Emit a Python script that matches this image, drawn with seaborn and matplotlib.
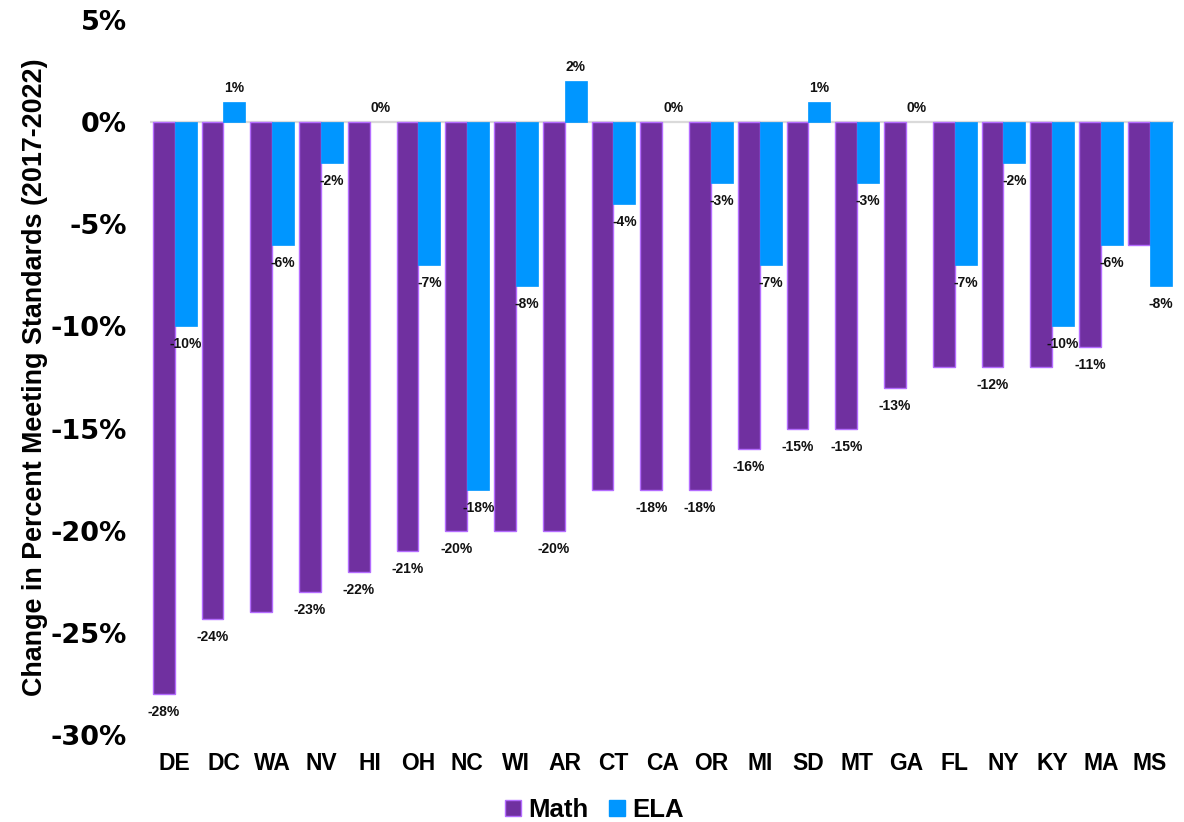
import matplotlib
matplotlib.use("Agg")
import matplotlib.pyplot as plt
from matplotlib.patches import Patch
from matplotlib.ticker import FuncFormatter
import seaborn as sns
import pandas as pd

# State codes, ordered by math decline
states = ["DE", "DC", "WA", "NV", "HI", "OH", "NC", "WI", "AR", "CT", "CA",
          "OR", "MI", "SD", "MT", "GA", "FL", "NY", "KY", "MA", "MS"]

# Change in percent meeting standards, 2017-2022 (percentage points)
math_change = [-28, -24.3, -24, -23, -22, -21, -20, -20, -20, -18, -18,
               -18, -16, -15, -15, -13, -12, -12, -12, -11, -6]
ela_change = [-10, 1, -6, -2, 0, -7, -18, -8, 2, -4, 0,
              -3, -7, 1, -3, 0, -7, -2, -10, -6, -8]

# Which bars carry a value label
math_labeled = [True, True, False, True, True, True, True, False, True, False, True,
                True, True, True, True, True, False, True, False, True, False]
ela_labeled = [True] * len(states)

series_names = ["Math", "ELA"]
colors = {"Math": "#7030A0", "ELA": "#0096FF"}
y_ticks = [5, 0, -5, -10, -15, -20, -25, -30]

df = pd.DataFrame({
    "State": states * 2,
    "Subject": ["Math"] * len(states) + ["ELA"] * len(states),
    "Change": math_change + ela_change,
})

sns.set_theme(style="white")
plt.rcParams["font.family"] = ["DejaVu Sans"]
plt.rcParams["text.color"] = "black"

sans = ["Liberation Sans", "DejaVu Sans"]

fig = plt.figure(figsize=(11.84, 8.22), dpi=100)
ax = fig.add_axes([0.127, 0.1058, 0.8646, 0.8699])

sns.barplot(data=df, x="State", y="Change", hue="Subject", order=states,
            hue_order=series_names, palette=colors, width=0.9, ax=ax,
            saturation=1, errorbar=None, legend=False)

# Outline the math bars in a lighter violet
for bar in ax.containers[0]:
    bar.set_edgecolor("#B46CFF")
    bar.set_linewidth(1.0)
for bar, val in zip(ax.containers[1], ela_change):
    bar.set_edgecolor("#0096FF")
    bar.set_linewidth(0.5 if val != 0 else 0)

# Zero baseline
ax.axhline(0, color="#DADADA", lw=1.6, zorder=0)

# Value labels beneath negative bars, above the rest
for container, values, shown in [(ax.containers[0], math_change, math_labeled),
                                 (ax.containers[1], ela_change, ela_labeled)]:
    for bar, val, show in zip(container, values, shown):
        if not show:
            continue
        xc = bar.get_x() + bar.get_width() / 2
        offset = -13 if val < 0 else 10
        ax.annotate(f"{round(val):d}%", (xc, val), xytext=(0, offset),
                    textcoords="offset points", ha="center", va="center",
                    fontsize=10, fontweight="bold", family=sans, color="#111111")

ax.set_ylim(-30, 5)
ax.set_yticks(y_ticks)
ax.yaxis.set_major_formatter(FuncFormatter(lambda v, p: f"{int(v)}%"))
for lbl in ax.get_yticklabels():
    lbl.set_fontsize(19.5)
    lbl.set_fontweight("heavy")
    lbl.set_color("black")

ax.set_xlabel("")
for lbl in ax.get_xticklabels():
    lbl.set_fontsize(16.5)
    lbl.set_fontweight("bold")
    lbl.set_family(sans)
    lbl.set_color("black")

ax.set_ylabel("Change in Percent Meeting Standards (2017-2022)", fontsize=19.4,
              fontweight="bold", family=sans, color="black", labelpad=2)

ax.tick_params(axis="x", length=0, pad=12)
ax.tick_params(axis="y", length=0, pad=17)
sns.despine(ax=ax, left=True, bottom=True)

handles = [Patch(facecolor=colors["Math"], edgecolor="#B46CFF", label="Math"),
           Patch(facecolor=colors["ELA"], edgecolor="#0096FF", label="ELA")]
fig.legend(handles=handles, loc="center", bbox_to_anchor=(0.502, 0.0146),
           ncol=2, frameon=False, handlelength=0.62, handleheight=0.62,
           handletextpad=0.27, columnspacing=0.8, labelcolor="black",
           prop={"family": sans, "weight": "bold", "size": 18.5})

fig.savefig("out.png", dpi=100, facecolor="white")
